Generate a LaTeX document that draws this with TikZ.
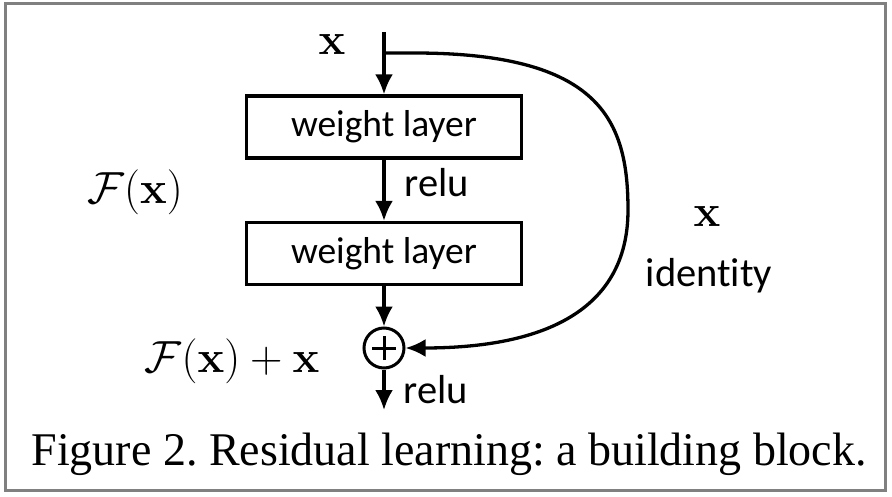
\RequirePackage{fix-cm}
\documentclass[tikz,border=0pt]{standalone}
\usepackage{graphicx}
\usepackage[no-math]{fontspec}
\newfontfamily\capfont{Liberation Serif}
\newfontfamily\calibrifont[Ligatures=NoCommon]{Carlito}
\usetikzlibrary{arrows.meta}
\definecolor{framegray}{RGB}{128,128,128}
\begin{document}
\begin{tikzpicture}[x=1pt,y=-1pt,
  line width=3.3pt,
  arr/.style={-{Latex[length=20pt,width=18pt]}},
  layer/.style={draw, minimum width=275pt, minimum height=62pt, inner sep=0pt,
    font=\calibrifont\fontsize{37.5}{40}\selectfont},
  lbl/.style={font=\calibrifont\fontsize{40.5}{44}\selectfont, inner sep=0pt},
  mth/.style={font=\fontsize{45}{50}\selectfont, inner sep=0pt},
]
\useasboundingbox (0,0) rectangle (892,497);
\draw[framegray, line width=3pt] (5,4) rectangle (885,490);

\coordinate (top) at (384,32);
\coordinate (br) at (384,53);
\coordinate (out) at (384,410);
\node[layer] (w1) at (384,127) {weight layer};
\node[layer] (w2) at (384,253.5) {weight layer};
\node[draw, circle, minimum size=40pt, inner sep=0pt, line width=3pt] (add) at (384,348) {};
\draw[line width=3pt] ([xshift=-12pt]add.center) -- ([xshift=12pt]add.center)
  ([yshift=-12pt]add.center) -- ([yshift=12pt]add.center);

\draw[arr] (top) -- (w1);
\draw[arr] (w1) -- (w2);
\draw[arr] (w2) -- (add);
\draw[arr] (add) -- (out);
\draw[arr] (br) -- (414,53) .. controls (600,53) and (628,120) .. (628,210)
  .. controls (628,300) and (560,348) .. (add.east);

\node[mth, anchor=base] (xin) at (332,55) {$\mathbf{x}$};
\node[lbl, anchor=base west] (r1) at (403,197) {relu};
\node[lbl, anchor=base west] (r2) at (402,403) {relu};
\node[mth, anchor=base] (fx) at (135,204) {$\mathcal{F}(\mathbf{x})$};
\node[mth, anchor=base east] (fxx) at (321,372) {$\mathcal{F}(\mathbf{x})+\mathbf{x}$};
\node[mth, anchor=base] (xid) at (707,227) {$\mathbf{x}$};
\node[lbl, anchor=base] (id) at (709,287) {identity};

\node[anchor=base west, inner sep=0pt] (cap) at (30,465.5)
  {\resizebox{835pt}{32.5pt}{\capfont\frenchspacing Figure 2. Residual learning: a building block.}};
\end{tikzpicture}
\end{document}
